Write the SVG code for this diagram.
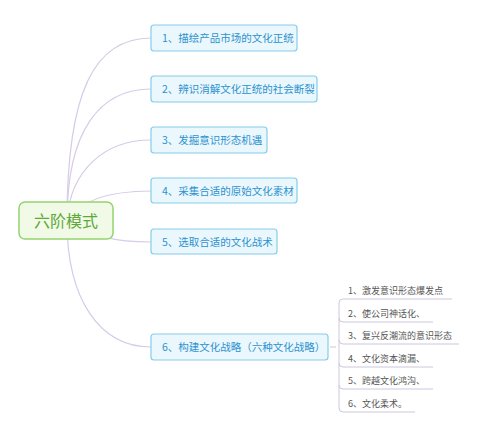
<svg xmlns="http://www.w3.org/2000/svg" width="500" height="440" viewBox="0 0 500 440">
<style>
.conn{fill:none;stroke:#d6cbe8;stroke-width:1.2}
.br{fill:none;stroke:#cdc6de;stroke-width:1}
.node rect{fill:#eaf7fd;stroke:#86cdea;stroke-width:1.2}
.node text{font-family:"Noto Sans CJK SC","Liberation Sans",sans-serif;font-size:10.5px;fill:#2d92cf}
.root rect{fill:#f0fae6;stroke:#95d46e;stroke-width:1.5}
.root text{font-family:"Noto Sans CJK SC","Liberation Sans",sans-serif;font-size:16px;fill:#5fa83a}
.sub text{font-family:"Noto Sans CJK SC","Liberation Sans",sans-serif;font-size:9px;fill:#555}
</style>
<rect width="500" height="440" fill="#fff"/>
<g id="connectors">
<path class="conn" d="M67,221 C67,90 95,38 151,38"/>
<path class="conn" d="M67,221 C67,130 100,89 151,89"/>
<path class="conn" d="M67,221 C70,170 105,140 151,140"/>
<path class="conn" d="M67,221 C80,200 110,191 151,191"/>
<path class="conn" d="M67,221 C90,236 115,242 151,242"/>
<path class="conn" d="M67,221 C67,300 100,347 151,347"/>
<line class="br" x1="330" y1="347" x2="336" y2="347"/>
<path class="br" d="M452,299 H343 Q339,299 339,303 V408 Q339,412 343,412 H415"/>
<path class="br" d="M339,318 Q339,322 343,322 H433"/>
<path class="br" d="M339,340 Q339,344 343,344 H459"/>
<path class="br" d="M339,363 Q339,367 343,367 H433"/>
<path class="br" d="M339,385 Q339,389 343,389 H433"/>
</g>
<g id="root" class="root"><rect x="19" y="202" width="94" height="37" rx="6"/><text x="66" y="227" text-anchor="middle">六阶模式</text></g>
<g id="n1" class="node"><rect x="151" y="25" width="146" height="26" rx="3"/><text x="162" y="42">1、描绘产品市场的文化正统</text></g>
<g id="n2" class="node"><rect x="151" y="76" width="166" height="26" rx="3"/><text x="162" y="93">2、辨识消解文化正统的社会断裂</text></g>
<g id="n3" class="node"><rect x="151" y="127" width="116" height="26" rx="3"/><text x="162" y="144">3、发掘意识形态机遇</text></g>
<g id="n4" class="node"><rect x="151" y="178" width="146" height="25" rx="3"/><text x="162" y="195">4、采集合适的原始文化素材</text></g>
<g id="n5" class="node"><rect x="151" y="229" width="126" height="25" rx="3"/><text x="162" y="246">5、选取合适的文化战术</text></g>
<g id="n6" class="node"><rect x="151" y="334" width="177" height="26" rx="3"/><text x="162" y="351">6、构建文化战略（六种文化战略）</text></g>
<g id="subs" class="sub">
<text x="348" y="294">1、激发意识形态爆发点</text>
<text x="348" y="317">2、使公司神话化、</text>
<text x="348" y="339">3、复兴反潮流的意识形态</text>
<text x="348" y="362">4、文化资本滴漏、</text>
<text x="348" y="384">5、跨越文化鸿沟、</text>
<text x="348" y="407">6、文化柔术。</text>
</g>
</svg>
